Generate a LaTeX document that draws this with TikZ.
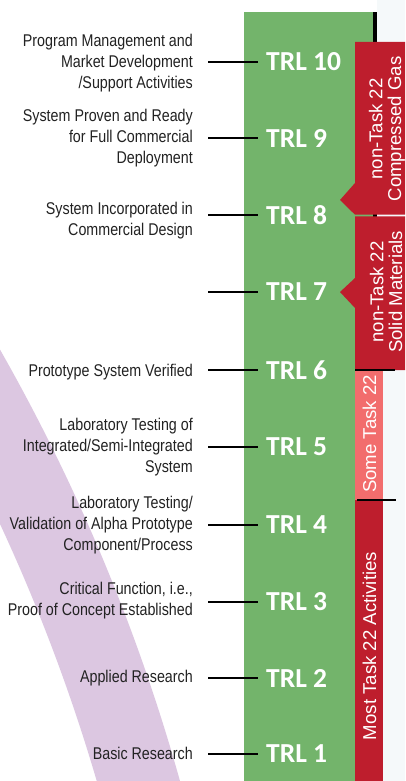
\documentclass[tikz,border=0pt]{standalone}
\usepackage{fontspec}
\setmainfont{Liberation Sans}
\newfontfamily\narrowfont[FakeStretch=0.84]{Liberation Sans}
\newfontfamily\trlfont{Carlito}
\definecolor{trlgreen}{HTML}{73B46B}
\definecolor{trlred}{HTML}{BE1E2D}
\definecolor{trlpink}{HTML}{F26D6D}
\definecolor{arcpurple}{HTML}{DCC7E1}
\definecolor{bgtint}{HTML}{F5F9FA}
\definecolor{descgray}{HTML}{222222}
\begin{document}
\begin{tikzpicture}[x=1pt,y=-1pt,
  trl/.style={font=\trlfont\bfseries\fontsize{27.5}{27.5}\selectfont, text=white, anchor=west, inner sep=0pt},
  desc/.style={font=\narrowfont\fontsize{17}{21}\selectfont, text=descgray, align=right, anchor=east, inner sep=0pt},
  tick/.style={line width=1.6pt, black},
  vlabel/.style={rotate=90, font=\fontsize{18.6}{18.8}\selectfont, text=white, align=center, inner sep=0pt},
  sepline/.style={line width=1.3pt, black}]
\useasboundingbox (0,0) rectangle (405,781);
\fill[white] (0,0) rectangle (405,781);
\fill[bgtint] (377,0) rectangle (405,781);
% purple arc band
\begin{scope}
  \clip (0,0) rectangle (405,781);
  \fill[arcpurple, even odd rule] (-1675,1301) circle (1926pt) (-1675,1301) circle (1846pt);
\end{scope}
% green TRL column
\fill[trlgreen] (244,12) rectangle (373,781);
\fill[black] (373,12) rectangle (377,42);
\fill[black] (373,214) rectangle (377,217);
% red / pink activity boxes
\fill[trlred] (355,42) -- (405,42) -- (405,214.7) -- (355,214.7) -- (340,200) -- (355,183) -- cycle;
\fill[trlred] (355,216.3) -- (405,216.3) -- (405,370) -- (355,370) -- (355,308) -- (340,292) -- (355,278) -- cycle;
\fill[trlpink] (355,370) rectangle (383,500);
\fill[trlred] (355,500) rectangle (383,781);
\coordinate (s1a) at (355,370); \coordinate (s1b) at (395,370);
\coordinate (s2a) at (357,500); \coordinate (s2b) at (396,500);
\draw[sepline] (s1a) -- (s1b);
\draw[sepline] (s2a) -- (s2b);
\node[vlabel] (gas) at (387,129) {non-Task 22\\Compressed Gas};
\node[vlabel] (solid) at (386,292) {non-Task 22\\Solid Materials};
\node[vlabel] (some) at (369.5,434) {Some Task 22};
\node[vlabel] (most) at (369.5,646) {Most Task 22 Activities};
% TRL levels and ticks
\foreach \n/\y in {10/62,9/138,8/215,7/292,6/370,5/447,4/525,3/602,2/678,1/754} {
  \coordinate (ta\n) at (208,\y);
  \coordinate (tb\n) at (258,\y);
  \draw[tick] (ta\n) -- (tb\n);
  \node[trl] (trl\n) at (266,\y) {TRL \n};
}
% descriptions
\node[desc] (d10) at (193,63) {Program Management and\\Market Development\\/Support Activities};
\node[desc] (d9) at (193,138) {System Proven and Ready\\for Full Commercial\\Deployment};
\node[desc] (d8) at (193,221) {System Incorporated in\\Commercial Design};
\node[desc] (d6) at (193,372) {Prototype System Verified};
\node[desc] (d5) at (193,447) {Laboratory Testing of\\Integrated/Semi-Integrated\\System};
\node[desc] (d4) at (193,525) {Laboratory Testing/\\Validation of Alpha Prototype\\Component/Process};
\node[desc] (d3) at (193,601) {Critical Function, i.e.,\\Proof of Concept Established};
\node[desc] (d2) at (193,678) {Applied Research};
\node[desc] (d1) at (193,753) {Basic Research};
\end{tikzpicture}
\end{document}
